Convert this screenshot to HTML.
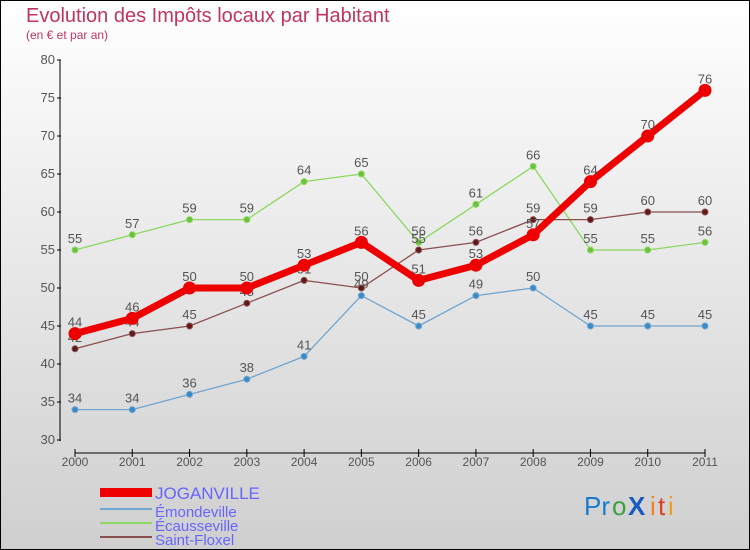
<!DOCTYPE html>
<html><head><meta charset="utf-8"><style>
body{margin:0}
svg{display:block;font-family:"Liberation Sans","DejaVu Sans",sans-serif}
</style></head><body>
<svg id="c" width="750" height="550" xmlns="http://www.w3.org/2000/svg">
<defs><linearGradient id="bg" x1="0" y1="0" x2="0" y2="1"><stop offset="0" stop-color="#ffffff"/><stop offset="1" stop-color="#cfcfcf"/></linearGradient></defs>
<rect x="0.5" y="0.5" width="749" height="549" fill="url(#bg)" stroke="#000"/>
<text x="26" y="22" font-size="20" fill="#c0345f">Evolution des Impôts locaux par Habitant</text>
<text x="26" y="39" font-size="12" fill="#c0345f">(en € et par an)</text>
<g id="axes"></g><g id="series"></g>
<g>
<rect x="100" y="488" width="52" height="9" fill="#e00"/>
<line x1="100" y1="509" x2="152" y2="509" stroke="#6fa5d0" stroke-width="2"/>
<line x1="100" y1="523" x2="152" y2="523" stroke="#8cd860" stroke-width="2"/>
<line x1="100" y1="537" x2="152" y2="537" stroke="#8a5050" stroke-width="2"/>
<text x="155" y="499" font-size="17" fill="#6666ff">JOGANVILLE</text>
<text x="155" y="517" font-size="15" fill="#6666ff">Émondeville</text>
<text x="155" y="531" font-size="15" fill="#6666ff">Écausseville</text>
<text x="155" y="545" font-size="15" fill="#6666ff">Saint-Floxel</text>
</g>
<g font-size="26">
<text x="584" y="515" fill="#1a7ad0">Pr</text><text x="612" y="515" fill="#3aa040">o</text><text x="628" y="515" font-weight="bold" fill="#1a5ac0">X</text><text x="650" y="515" fill="#f08020">i</text><text x="658" y="515" fill="#e04020">t</text><text x="668" y="515" fill="#f0a020">i</text>
</g>
</svg>
<script>
const years=[2000,2001,2002,2003,2004,2005,2006,2007,2008,2009,2010,2011];
const joganville=[44,46,50,50,53,56,51,53,57,64,70,76];
const emondeville=[34,34,36,38,41,49,45,49,50,45,45,45];
const ecausseville=[55,57,59,59,64,65,56,61,66,55,55,56];
const saintFloxel=[42,44,45,48,51,50,55,56,59,59,60,60];
const yTicks=[30,35,40,45,50,55,60,65,70,75,80];
const NS="http://www.w3.org/2000/svg";
const x=i=>75+i*(630/11);
const y=v=>440-(v-30)*7.6;
function mk(t,a,p){const e=document.createElementNS(NS,t);for(const k in a)e.setAttribute(k,a[k]);p.appendChild(e);return e;}
const ax=document.getElementById('axes');
mk('line',{x1:60,y1:60,x2:60,y2:441,stroke:'#000'},ax);
mk('line',{x1:75,y1:453,x2:705,y2:453,stroke:'#000'},ax);
yTicks.forEach(v=>{
 const g=mk('g',{},ax);
 
 
 mk('line',{x1:57,y1:y(v),x2:61,y2:y(v),stroke:'#000'},g);
 const t=mk('text',{x:55,y:y(v)+4,'text-anchor':'end','font-size':13,fill:'#555'},g);t.textContent=v;
});
years.forEach((yr,i)=>{
 const g=mk('g',{},ax);
 
 
 mk('line',{x1:x(i),y1:449,x2:x(i),y2:457,stroke:'#000'},g);
 const t=mk('text',{x:x(i),y:466,'text-anchor':'middle','font-size':12,fill:'#555'},g);t.textContent=yr;
});
const S=document.getElementById('series');
function series(vals,name,color,w,r,dot){
 const g=mk('g',{},S);
 
 
 mk('polyline',{points:vals.map((v,i)=>x(i)+','+y(v)).join(' '),fill:'none',stroke:color,'stroke-width':w,'stroke-linejoin':'round'},g);
 vals.forEach((v,i)=>{
  const c=mk('circle',{cx:x(i),cy:y(v),r:r,fill:dot,stroke:color,'stroke-width':1},g);
  
  
  const t=mk('text',{x:x(i),y:y(v)-7,'text-anchor':'middle','font-size':13,fill:'#555'},g);t.textContent=v;
 });
}
series(emondeville,'emondeville','#6fa5d0',1.3,3,'#3a8ac8');
series(ecausseville,'ecausseville','#8cd860',1.3,3,'#6cc040');
series(saintFloxel,'saint-floxel','#8a5050',1.3,3,'#601818');
series(joganville,'joganville','#ee0000',7,6,'#ee0000');
</script>
</body></html>
